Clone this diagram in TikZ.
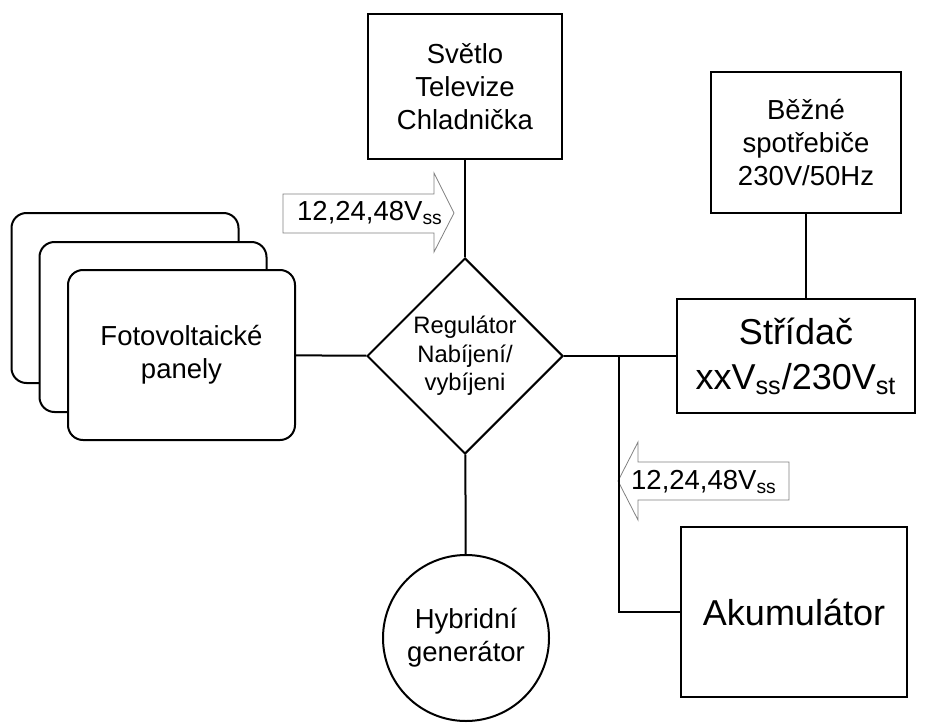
\documentclass[tikz,border=0pt]{standalone}
\usepackage{fontspec}
\setmainfont{Liberation Sans}
\usetikzlibrary{shapes.geometric}
\begin{document}
\begin{tikzpicture}[x=0.5pt,y=-0.5pt,
    box/.style={draw,line width=1pt,fill=white,inner sep=0pt,align=center,
      font=\fontsize{13.75}{16.5}\selectfont},
    bigbox/.style={box,font=\fontsize{18}{22.5}\selectfont},
    panel/.style={box,rounded corners=7.5pt,minimum width=113.5pt,minimum height=85pt},
    volt/.style={draw=gray,line width=0.4pt,fill=white}]
      \useasboundingbox (0,0) rectangle (925,722);
      % panely (zadni dva)
      \draw (125,298) node[panel] (p3){};
      \draw (153,327) node[panel] (p2){};
      \draw
        (181.5,355) node[panel] (pv){Fotovoltaické\\panely}
        (465,356) node[box,diamond,minimum width=98pt,minimum height=98pt,
          font=\fontsize{11.9}{14.25}\selectfont] (reg){Regulátor\\Nabíjení/\\vybíjeni}
        (465,86.5) node[box,minimum width=97pt,minimum height=72.5pt] (svetlo){Světlo\\Televize\\Chladnička}
        (806,142.5) node[box,minimum width=95pt,minimum height=70.5pt] (bezne){Běžné\\spotřebiče\\230V/50Hz}
        (796,356) node[bigbox,minimum width=119pt,minimum height=57pt] (stridac){Střídač\\xxV\textsubscript{ss}/230V\textsubscript{st}}
        (794,612) node[bigbox,minimum width=113pt,minimum height=85pt] (akum){Akumulátor}
        (466,638) node[box,circle,minimum size=83pt] (gen){Hybridní\\generátor};
      \coordinate (j) at (619,356);
      % sipky napeti
      \draw[volt] (283,194) -- (434,194) -- (434,173) -- (454,213)
        -- (434,252) -- (434,233) -- (283,233) -- cycle;
      \draw (370,213) node[font=\fontsize{13.75}{16.5}\selectfont,inner sep=0pt] (u1){12,24,48V\textsubscript{ss}};
      \draw[volt] (789,462) -- (638,462) -- (638,442) -- (618,481)
        -- (638,520) -- (638,500) -- (789,500) -- cycle;
      \draw (704,482) node[font=\fontsize{13.75}{16.5}\selectfont,inner sep=0pt] (u2){12,24,48V\textsubscript{ss}};
      \begin{scope}[-,line width=1pt]
        \draw (pv) to (reg);
        \draw (svetlo) to (reg);
        \draw (reg) to (gen);
        \draw (reg) to (stridac);
        \draw (bezne.south) to (bezne.south |- stridac.north);
        \draw (j) |- (akum.west);
      \end{scope}
    \end{tikzpicture}
\end{document}
